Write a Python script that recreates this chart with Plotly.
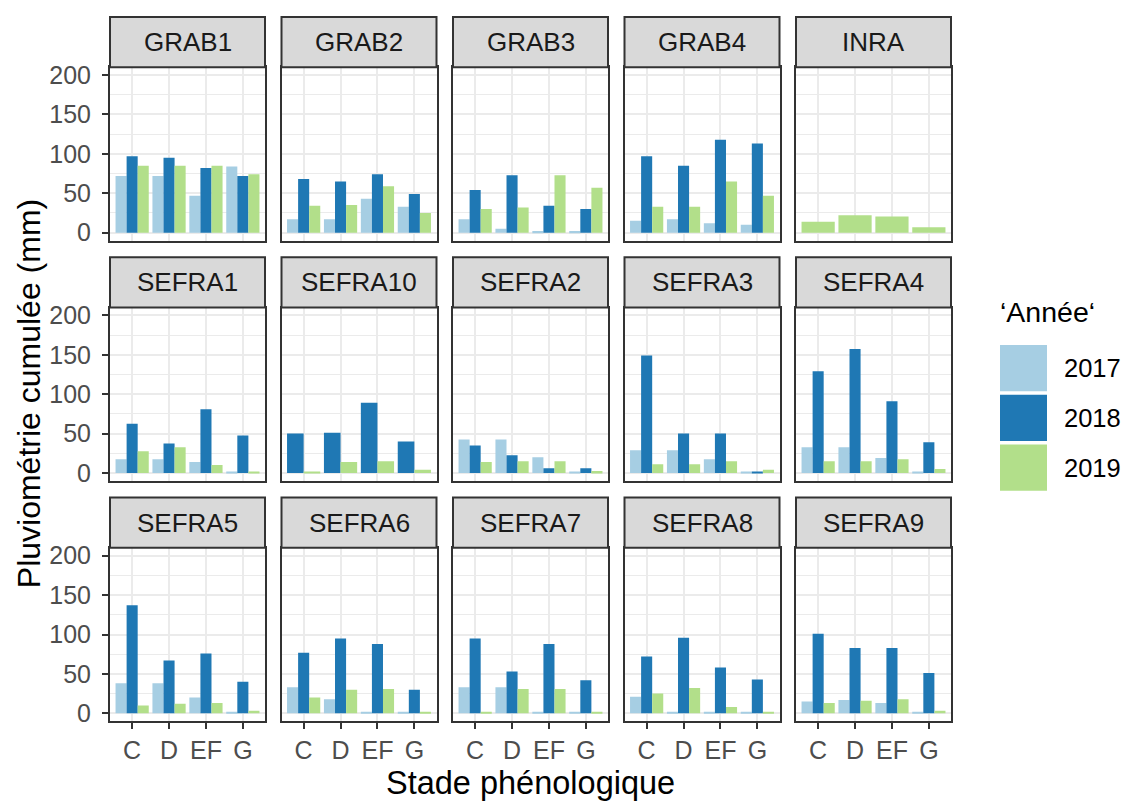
import plotly.graph_objects as go

sites = ["GRAB1", "GRAB2", "GRAB3", "GRAB4", "INRA",
         "SEFRA1", "SEFRA10", "SEFRA2", "SEFRA3", "SEFRA4",
         "SEFRA5", "SEFRA6", "SEFRA7", "SEFRA8", "SEFRA9"]
stages = ["C", "D", "EF", "G"]
years = ["2017", "2018", "2019"]
year_colors = ["#A6CEE3", "#1F78B4", "#B2DF8A"]

# cumulative rainfall (mm) per site, stages C, D, EF, G ; None = year absent
pluvio_2017 = [
    [72, 72, 47, 84], [17, 17, 43, 33], [17, 5, 2, 2], [15, 17, 12, 10], None,
    [17.5, 17.5, 14, 1], None, [42.5, 42.5, 20, 1], [29, 29, 17.5, 1], [32.5, 32.5, 19, 1],
    [38, 38, 20, 1], [33, 18, 1.5, 1], [33, 33, 1, 1], [21, 1, 1, 1], [15, 17, 13, 1],
]
pluvio_2018 = [
    [97, 95, 82, 72], [68, 65, 74, 49], [54, 73, 34, 30], [97, 85, 118, 113], None,
    [62.5, 37.5, 81, 47.5], [50, 51, 89, 40], [35, 22.5, 6, 6], [149, 50, 50, 1], [129, 157.5, 91, 39],
    [137, 67, 76, 40], [77, 95, 88, 30], [95, 53, 88, 42], [72, 96, 58, 43], [101, 83, 83, 51],
]
pluvio_2019 = [
    [85, 85, 85, 74], [34, 35, 59, 25], [30, 32, 73, 57], [33, 33, 65, 47], [14, 22, 20.5, 7],
    [27.5, 32.5, 10, 1.2], [1.2, 14, 15, 4], [14, 15, 15, 2.5], [11, 11, 15, 4], [15, 15, 17.5, 5],
    [10, 12, 13, 3.3], [20, 30, 31, 1], [1, 31, 31, 1], [25, 32, 8, 1], [13, 16, 18, 3.3],
]
series = [pluvio_2017, pluvio_2018, pluvio_2019]
y_ticks = [0, 50, 100, 150, 200]
y_minor = [25, 75, 125, 175]

# page body margin compensation
OFF = 8
W, H = 1131 - OFF, 805 - OFF


def px(x):
    return (x - OFF) / W


def py(y):
    return 1 - (y - OFF) / H


FONT = "Liberation Sans, Arial, Helvetica, sans-serif"
ncol = 5
col_left0, col_w, col_step = 110, 155, 171.5
row_top0, row_h, row_step, strip_h = 62, 176, 244, 51

fig = go.Figure()
layout = dict(
    width=W, height=H, autosize=False,
    margin=dict(l=0, r=0, t=0, b=0),
    paper_bgcolor="white", plot_bgcolor="white",
    barmode="group", bargap=0.1, bargroupgap=0,
    showlegend=False, font=dict(family=FONT),
)
shapes, annotations = [], []

for k, site in enumerate(sites):
    r, c = divmod(k, ncol)
    idx = "" if k == 0 else str(k + 1)
    x0 = col_left0 + col_step * c
    x1 = x0 + col_w
    top = row_top0 + row_step * r
    bot = top + row_h
    for yi, yr in enumerate(years):
        vals = series[yi][k]
        if vals is None:
            continue
        fig.add_trace(go.Bar(
            x=stages, y=vals, name=yr, marker=dict(color=year_colors[yi], line=dict(width=0)),
            xaxis="x" + idx, yaxis="y" + idx, showlegend=False,
        ))
    bottom_row = (r == 2)
    first_col = (c == 0)
    layout["xaxis" + idx] = dict(
        domain=[px(x0), px(x1)], anchor="y" + idx, type="category",
        categoryorder="array", categoryarray=stages, range=[-0.6, 3.6],
        showgrid=True, gridcolor="#EBEBEB", gridwidth=2, zeroline=False,
        showline=True, mirror=True, linecolor="#333333", linewidth=2,
        ticks="outside" if bottom_row else "", ticklen=6, tickwidth=2, tickcolor="#333333",
        showticklabels=bottom_row, tickfont=dict(size=25, color="#4D4D4D", family=FONT),
        ticklabelstandoff=0, fixedrange=True,
    )
    layout["yaxis" + idx] = dict(
        domain=[py(bot), py(top)], anchor="x" + idx, range=[-10, 210],
        tickmode="array", tickvals=y_ticks, ticktext=[str(v) for v in y_ticks],
        showgrid=True, gridcolor="#EBEBEB", gridwidth=2, zeroline=False,
        minor=dict(tickmode="array", tickvals=y_minor, showgrid=True, gridcolor="#EBEBEB", gridwidth=1, ticks=""),
        showline=True, mirror=True, linecolor="#333333", linewidth=2,
        ticks="outside" if first_col else "", ticklen=6, tickwidth=2, tickcolor="#333333",
        showticklabels=first_col, tickfont=dict(size=25, color="#4D4D4D", family=FONT),
        ticklabelstandoff=6, fixedrange=True,
    )
    # strip
    s_top = top - strip_h
    shapes.append(dict(type="rect", xref="paper", yref="paper",
                       x0=px(x0), x1=px(x1), y0=py(top), y1=py(s_top),
                       fillcolor="#D9D9D9", line=dict(color="#333333", width=2), layer="above"))
    annotations.append(dict(text=site, xref="paper", yref="paper",
                            x=px((x0 + x1) / 2), y=py(s_top + strip_h / 2),
                            xanchor="center", yanchor="middle", showarrow=False,
                            font=dict(size=26, color="#1A1A1A", family=FONT)))

# axis titles
annotations.append(dict(text="Stade phénologique", xref="paper", yref="paper",
                        x=px(530), y=py(789), xanchor="center", yanchor="middle",
                        showarrow=False, font=dict(size=32.5, color="black", family=FONT)))
annotations.append(dict(text="Pluviométrie cumulée (mm)", xref="paper", yref="paper",
                        x=px(29), y=py(394), xanchor="center", yanchor="middle", textangle=-90,
                        borderpad=0,
                        showarrow=False, font=dict(size=32, color="black", family=FONT)))

# legend
leg_x, leg_title_y, key_top0, key_size, key_step = 1000, 311, 344, 47, 50.5
annotations.append(dict(text="‘Année‘", xref="paper", yref="paper",
                        x=px(leg_x - 2), y=py(leg_title_y), xanchor="left", yanchor="middle",
                        showarrow=False, font=dict(size=28.5, color="black", family=FONT)))
for i, yr in enumerate(years):
    kt = key_top0 + key_step * i
    shapes.append(dict(type="rect", xref="paper", yref="paper",
                       x0=px(leg_x), x1=px(leg_x + key_size),
                       y0=py(kt + key_size), y1=py(kt),
                       fillcolor=year_colors[i], line=dict(width=0)))
    annotations.append(dict(text=yr, xref="paper", yref="paper",
                            x=px(1062), y=py(kt + key_size / 2), xanchor="left", yanchor="middle",
                            showarrow=False, font=dict(size=25.5, color="black", family=FONT)))

layout["shapes"] = shapes
layout["annotations"] = annotations
fig.update_layout(**layout)
fig.write_html("out.html")
